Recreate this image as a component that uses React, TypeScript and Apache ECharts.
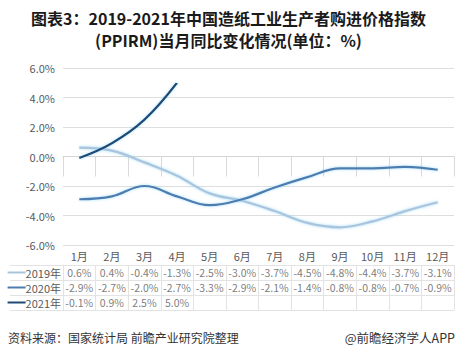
import React, { useEffect, useRef } from "react";
import * as echarts from "echarts";

const months = ["1月", "2月", "3月", "4月", "5月", "6月", "7月", "8月", "9月", "10月", "11月", "12月"];
const seriesNames = ["2019年", "2020年", "2021年"];
const values2019 = [0.6, 0.4, -0.4, -1.3, -2.5, -3.0, -3.7, -4.5, -4.8, -4.4, -3.7, -3.1];
const values2020 = [-2.9, -2.7, -2.0, -2.7, -3.3, -2.9, -2.1, -1.4, -0.8, -0.8, -0.7, -0.9];
const values2021 = [-0.1, 0.9, 2.5, 5.0];
const yMin = -6;
const yMax = 6;
const yStep = 2;
const titleLine1 = "图表3：2019-2021年中国造纸工业生产者购进价格指数";
const titleLine2 = "(PPIRM)当月同比变化情况(单位：%)";
const sourceText = "资料来源：国家统计局 前瞻产业研究院整理";
const brandText = "@前瞻经济学人APP";

const colors = ["#a9c5dd", "#4d7db0", "#1d4a74"];
const FONT = "'Noto Sans CJK SC', 'Noto Sans', sans-serif";

export default function App() {
  const ref = useRef<HTMLDivElement>(null);
  useEffect(() => {
    if (!ref.current) return;
    const chart = echarts.init(ref.current, undefined, { renderer: "svg" });
    const allSeries = [values2019, values2020, values2021];
    const cellData: any[] = [];
    allSeries.forEach((arr, r) => {
      arr.forEach((v, i) => cellData.push([i, r, v]));
    });
    const rich: any = {};
    colors.forEach((c, i) => {
      rich["k" + i] = { width: 18, height: 2, backgroundColor: c };
    });
    rich.t = { color: "#595959", fontSize: 11, fontFamily: FONT };

    const titleStyle = { fontSize: 16, fontWeight: "bold", fill: "#1a1a1a", fontFamily: FONT };

    chart.setOption({
      animation: false,
      backgroundColor: "#ffffff",
      textStyle: { fontFamily: FONT },
      graphic: [
        { type: "text", left: "center", top: 10, style: { text: titleLine1, ...titleStyle } },
        { type: "text", left: "center", top: 32, style: { text: titleLine2, ...titleStyle } },
        { type: "text", left: 8, top: 331, style: { text: sourceText, fontSize: 12, fill: "#333", fontFamily: FONT } },
        { type: "text", right: 2, top: 331, style: { text: brandText, fontSize: 12.5, fill: "#333", fontFamily: FONT } },
      ],
      grid: [
        { left: 63, right: 3, top: 68, height: 177 },
        { left: 63, right: 3, top: 265, height: 45 },
      ],
      xAxis: [
        {
          type: "category",
          gridIndex: 0,
          data: months,
          boundaryGap: true,
          axisLine: { show: true, lineStyle: { color: "#d4d4d4" } },
          axisTick: { show: true, length: 20, interval: 0, lineStyle: { color: "#d9d9d9" } },
          axisLabel: { color: "#595959", fontSize: 11, margin: 5, interval: 0, fontFamily: FONT },
        },
        {
          type: "category",
          gridIndex: 1,
          data: months,
          boundaryGap: true,
          axisLine: { show: true, lineStyle: { color: "#e3e3e3" } },
          axisTick: { show: false },
          axisLabel: { show: false },
          splitLine: { show: true, interval: 0, lineStyle: { color: "#e3e3e3" } },
        },
      ],
      yAxis: [
        {
          type: "value",
          gridIndex: 0,
          min: yMin,
          max: yMax,
          interval: yStep,
          axisLine: { show: false },
          axisTick: { show: false },
          axisLabel: {
            color: "#595959",
            fontSize: 11,
            margin: 8,
            fontFamily: FONT,
            formatter: (v: number) => v.toFixed(1) + "%",
          },
          splitLine: { lineStyle: { color: "#dedede" } },
        },
        {
          type: "category",
          gridIndex: 1,
          data: seriesNames,
          inverse: true,
          boundaryGap: true,
          axisLine: { show: true, lineStyle: { color: "#e3e3e3" } },
          axisTick: { show: true, length: 53, interval: 0, lineStyle: { color: "#e3e3e3" } },
          axisLabel: {
            margin: 2,
            interval: 0,
            formatter: (v: string) => {
              const i = seriesNames.indexOf(v);
              return "{k" + i + "|}{t|" + v + "}";
            },
            rich,
          },
          splitLine: { show: true, interval: 0, lineStyle: { color: "#e3e3e3" } },
        },
      ],
      series: [
        ...allSeries.map((arr, i) => ({
          type: "line",
          name: seriesNames[i],
          xAxisIndex: 0,
          yAxisIndex: 0,
          data: arr,
          smooth: 0.4,
          symbol: "none",
          lineStyle: {
            color: colors[i],
            width: 2.2,
            shadowColor: "rgba(140,210,245,0.75)",
            shadowBlur: 3,
          },
          z: 3 + i,
        })),
        {
          type: "scatter",
          xAxisIndex: 1,
          yAxisIndex: 1,
          data: cellData,
          symbolSize: 0,
          silent: true,
          label: {
            show: true,
            position: "inside",
            color: "#595959",
            fontSize: 10.5,
            fontFamily: FONT,
            formatter: (p: any) => p.value[2].toFixed(1) + "%",
          },
        },
      ],
    });
    return () => chart.dispose();
  }, []);
  return <div ref={ref} style={{ position: "absolute", left: 0, top: 0, width: 457, height: 359 }} />;
}
